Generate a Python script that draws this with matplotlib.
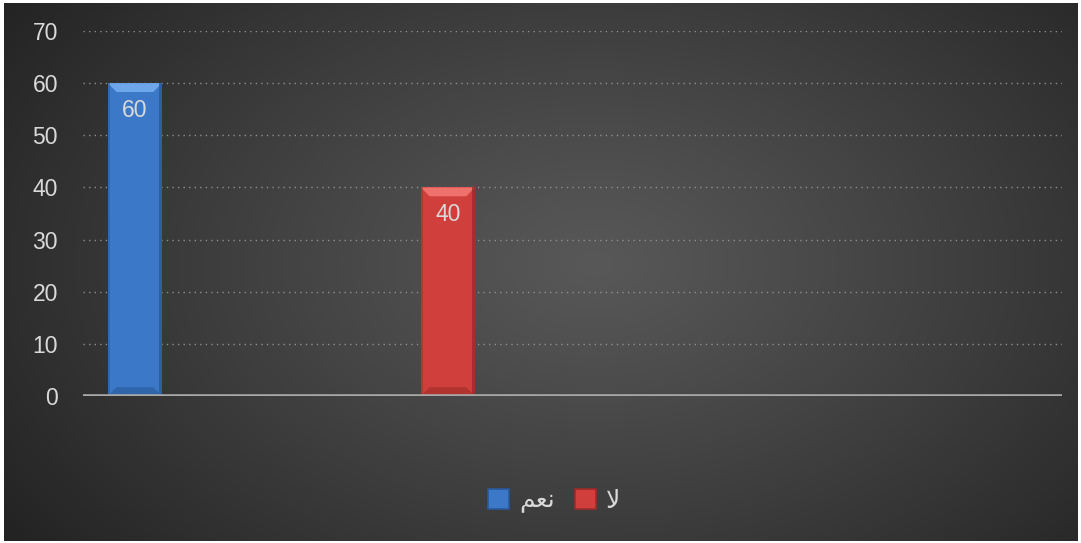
import numpy as np
import matplotlib.pyplot as plt
from matplotlib.patches import Polygon, Rectangle

# data
series_names = ["نعم", "لا"]
values = [60, 40]
y_ticks = [0, 10, 20, 30, 40, 50, 60, 70]

bar_colors = ["#3b78c8", "#d03f3b"]
light_colors = ["#6ea6ea", "#ee716c"]
dark_colors = ["#29599a", "#9c2c29"]

# matplotlib does no arabic shaping, so use presentation forms in visual order
shaped = {"نعم": "\ufee2\ufecc\ufee7", "لا": "\ufefb"}

plt.rcParams["font.family"] = ["Liberation Sans", "DejaVu Sans"]
txt_color = "#d9d9d9"

W, H = 1081, 543
fig = plt.figure(figsize=(W / 100, H / 100), dpi=100)
fig.patch.set_facecolor("white")

# radial gradient background
bx0, by0, bw, bh = 4, 3, 1074, 538
bg = fig.add_axes([bx0 / W, (H - by0 - bh) / H, bw / W, bh / H])
yy, xx = np.mgrid[0:bh, 0:bw]
r = np.sqrt(((xx - 590) / 720.0) ** 2 + ((yy - 260) / 470.0) ** 2)
r = np.clip(r, 0, 1)
c_in, c_out = 0x58 / 255, 0x23 / 255
g = c_in + (c_out - c_in) * r ** 1.1
bg.imshow(np.dstack([g, g, g]), aspect="auto", interpolation="bilinear")
bg.axis("off")

# main axes
ax = fig.add_axes([83 / W, 147 / H, 979 / W, 365 / H])
ax.set_facecolor("none")
ax.set_xlim(-0.166, 2.962)
ax.set_ylim(0, 70)
ax.set_yticks(y_ticks)
ax.set_xticks([])
ax.tick_params(axis="y", length=0, pad=18, labelsize=16.5, labelcolor=txt_color)
for s in ax.spines.values():
    s.set_visible(False)
ax.yaxis.grid(True, linestyle=(0, (1, 3)), color="#8f8f8f", lw=1)
ax.set_axisbelow(True)
ax.axhline(0, color="#a8a8a8", lw=2.6, zorder=4)

x = np.arange(len(values))
bars = ax.bar(x, values, width=0.173, color=bar_colors, zorder=2)

# bevel effect
bxs, bys = 0.028, 1.7
for b, lc, dc in zip(bars, light_colors, dark_colors):
    x0, w, h = b.get_x(), b.get_width(), b.get_height()
    x1 = x0 + w
    ax.add_patch(Polygon([(x0, h), (x1, h), (x1 - bxs, h - bys), (x0 + bxs, h - bys)],
                         closed=True, color=lc, lw=0, zorder=3))
    ax.add_patch(Polygon([(x0, 0), (x1, 0), (x1 - bxs, bys), (x0 + bxs, bys)],
                         closed=True, color=dc, alpha=0.6, lw=0, zorder=3))
    ax.add_patch(Rectangle((x1 - 0.009, 0), 0.009, h, color=dc, alpha=0.8, lw=0, zorder=3))
    ax.add_patch(Rectangle((x0, 0), 0.006, h, color=dc, alpha=0.5, lw=0, zorder=3))
    ax.text(x0 + w / 2, h - 5.2, f"{int(h)}", ha="center", va="center",
            fontsize=16.5, color=txt_color, zorder=5)

# legend
handles = [Rectangle((0, 0), 1, 1, facecolor=c, edgecolor=d, lw=1.2)
           for c, d in zip(bar_colors, dark_colors)]
leg = fig.legend(handles, [shaped[n] for n in series_names], ncol=2,
                 loc="center", bbox_to_anchor=(554 / W, 1 - 501 / H),
                 frameon=False, fontsize=18, handlelength=0.85, handleheight=0.85,
                 handletextpad=0.4, columnspacing=0.8, labelcolor=txt_color)

plt.savefig("out.png", dpi=100)
